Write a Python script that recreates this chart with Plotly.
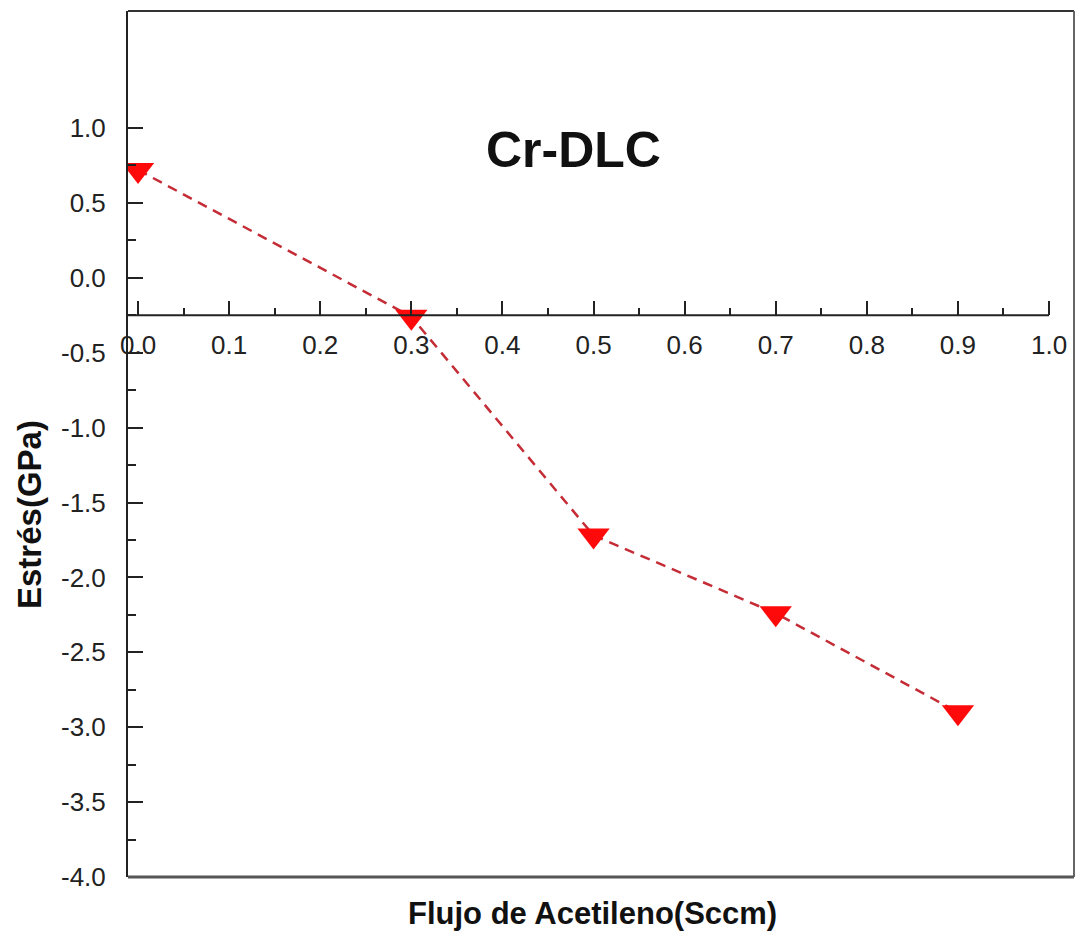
import plotly.graph_objects as go

# Acetylene flow (sccm) vs. residual stress (GPa) for the Cr-DLC coating
flujo = [0.0, 0.3, 0.5, 0.7, 0.9]
estres = [0.72, -0.26, -1.72, -2.24, -2.90]

x_ticks = [0.0, 0.1, 0.2, 0.3, 0.4, 0.5, 0.6, 0.7, 0.8, 0.9, 1.0]
x_minor = [0.05, 0.15, 0.25, 0.35, 0.45, 0.55, 0.65, 0.75, 0.85, 0.95]
y_ticks = [1.0, 0.5, 0.0, -0.5, -1.0, -1.5, -2.0, -2.5, -3.0, -3.5, -4.0]
y_minor = [0.75, 0.25, -0.25, -0.75, -1.25, -1.75, -2.25, -2.75, -3.25, -3.75]

W, H = 1075, 938
L, R, T, B = 128, 1, 11, 61
pw, ph = W - L - R, H - T - B

X_RANGE = [-0.011, 1.0274]
Y_RANGE = [-4.0, 1.781]
X_AXIS_AT = -0.25  # the x axis crosses the y axis here

FONT = "Arial, Liberation Sans, sans-serif"
INK = "#222222"


def px_x(p):
    return (p - L) / pw


def px_y(p):
    return (H - B - p) / ph


fig = go.Figure()
fig.add_trace(go.Scatter(
    x=flujo, y=estres,
    mode="lines+markers",
    line=dict(color="#c42c36", width=2.5, dash="10px,7px"),
    marker=dict(symbol="triangle-down", size=28, color="#ff0a0a",
                line=dict(width=0)),
    showlegend=False,
))

fmt = lambda v: f"{v:.1f}".replace("-0.0", "0.0")

fig.update_layout(
    width=W, height=H,
    margin=dict(l=L, r=R, t=T, b=B, pad=0),
    paper_bgcolor="white", plot_bgcolor="white",
    font=dict(family=FONT, color=INK),
    xaxis=dict(
        range=X_RANGE, anchor="free",
        position=(X_AXIS_AT - Y_RANGE[0]) / (Y_RANGE[1] - Y_RANGE[0]),
        showgrid=False, zeroline=False, showline=False,
        tickmode="array", tickvals=x_ticks, ticktext=[fmt(v) for v in x_ticks],
        ticks="inside", ticklen=14, tickwidth=2, tickcolor=INK,
        ticklabelstandoff=12,
        tickfont=dict(size=26, color=INK, family=FONT),
        minor=dict(tickmode="array", tickvals=x_minor, ticks="inside",
                   ticklen=7, tickwidth=2, tickcolor=INK, showgrid=False),
    ),
    yaxis=dict(
        range=Y_RANGE,
        showgrid=False, zeroline=False,
        showline=True, linecolor=INK, linewidth=2,
        tickmode="array", tickvals=y_ticks, ticktext=[fmt(v) for v in y_ticks],
        ticks="inside", ticklen=15, tickwidth=2, tickcolor=INK,
        ticklabelstandoff=15,
        tickfont=dict(size=26, color=INK, family=FONT),
        minor=dict(tickmode="array", tickvals=y_minor, ticks="inside",
                   ticklen=8, tickwidth=2, tickcolor=INK, showgrid=False),
    ),
)

# x axis line, running from the left frame to the last tick
fig.add_shape(type="line", xref="x", yref="y",
              x0=X_RANGE[0], x1=1.0, y0=X_AXIS_AT, y1=X_AXIS_AT,
              line=dict(color=INK, width=2))
# frame: top, right and bottom edges
fig.add_shape(type="line", xref="paper", yref="paper", x0=0, x1=1, y0=1, y1=1,
              line=dict(color="#333333", width=2))
fig.add_shape(type="line", xref="paper", yref="paper", x0=1, x1=1, y0=0, y1=1,
              line=dict(color="#666666", width=2))
fig.add_shape(type="line", xref="paper", yref="paper", x0=0, x1=1, y0=0, y1=0,
              line=dict(color="#555555", width=3))

common = dict(xref="paper", yref="paper", showarrow=False,
              xanchor="center", yanchor="middle")
fig.add_annotation(text="<b>Cr-DLC</b>", x=px_x(573), y=px_y(150),
                   font=dict(size=50, color="#111111", family=FONT), **common)
fig.add_annotation(text="<b>Flujo de Acetileno(Sccm)</b>", x=px_x(592), y=px_y(913),
                   font=dict(size=31, color="#111111", family=FONT), **common)
fig.add_annotation(text="<b>Estrés(GPa)</b>", x=px_x(29), y=px_y(515), textangle=-90,
                   font=dict(size=33, color="#111111", family=FONT), **common)

fig.write_html("out.html")
